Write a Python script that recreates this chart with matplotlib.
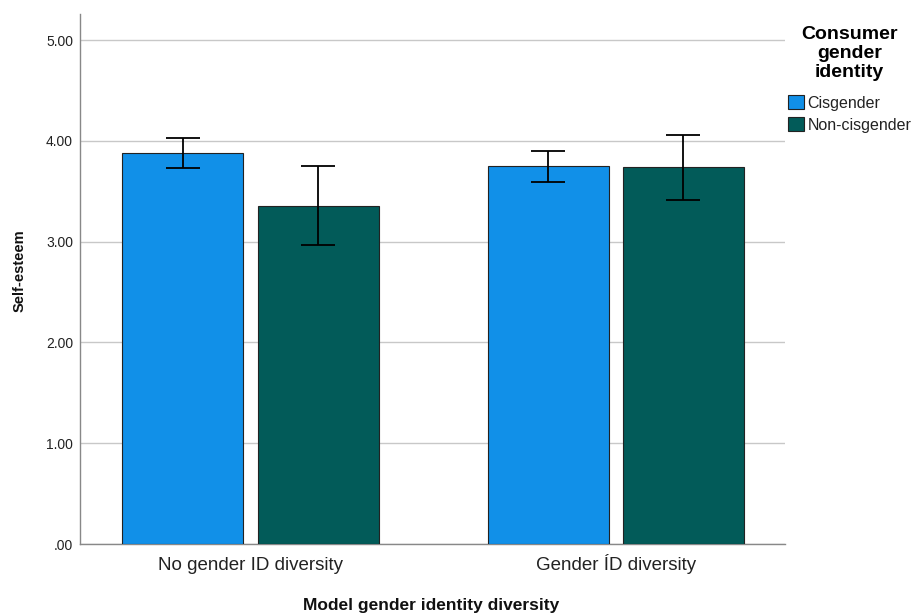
import matplotlib
matplotlib.use("Agg")
import matplotlib.pyplot as plt
from matplotlib.patches import Patch
import numpy as np

plt.rcParams['font.family'] = ['Liberation Sans', 'DejaVu Sans']

groups = ["No gender ID diversity", "Gender ÍD diversity"]
series = ["Cisgender", "Non-cisgender"]
means = {"Cisgender": [3.88, 3.75], "Non-cisgender": [3.35, 3.74]}
ci_low = {"Cisgender": [3.73, 3.59], "Non-cisgender": [2.97, 3.41]}
ci_high = {"Cisgender": [4.03, 3.90], "Non-cisgender": [3.75, 4.06]}
colors = {"Cisgender": "#1190E8", "Non-cisgender": "#025B59"}
yticks = [0, 1, 2, 3, 4, 5]
ytick_labels = [".00", "1.00", "2.00", "3.00", "4.00", "5.00"]

fig = plt.figure(figsize=(9.13, 6.13), dpi=100)
ax = fig.add_axes([80/913, 69/613, 705/913, 530/613])

x = np.arange(len(groups))
width = 0.3315
offsets = [-0.185, 0.185]
for s, off in zip(series, offsets):
    m = np.array(means[s])
    lo = m - np.array(ci_low[s])
    hi = np.array(ci_high[s]) - m
    ax.bar(x + off, m, width=width, color=colors[s], edgecolor="#222222",
           linewidth=0.8, zorder=3)
    ax.errorbar(x + off, m, yerr=[lo, hi], fmt="none", ecolor="black",
                elinewidth=1.3, capsize=12, capthick=1.3, zorder=4)

ax.set_xlim(-0.467, 1.464)
ax.set_ylim(0, 5.26)
ax.set_yticks(yticks)
ax.set_yticklabels(ytick_labels, fontsize=10, color="#222222")
ax.set_xticks(x)
ax.set_xticklabels([])
for xi, g in zip(x, groups):
    ax.text(xi, -26/530, g, transform=ax.get_xaxis_transform(), ha="center",
            va="baseline", fontsize=13.5, color="#222222")
ax.tick_params(axis="both", length=0, pad=5)
ax.yaxis.grid(True, color="#C8C8C8", linewidth=1.0, zorder=0)
ax.set_axisbelow(True)
for sp in ["top", "right"]:
    ax.spines[sp].set_visible(False)
for sp in ["left", "bottom"]:
    ax.spines[sp].set_color("#888888")
    ax.spines[sp].set_linewidth(1.0)

fig.text(20/913, 1 - 271/613, "Self-esteem", rotation=90, ha="center", va="center",
         fontsize=10.5, fontweight="bold", color="#111111")
fig.text(431/913, 1 - 610/613, "Model gender identity diversity", ha="center",
         va="baseline", fontsize=12.5, fontweight="bold", color="#111111")

handles = [Patch(facecolor=colors[s], edgecolor="#222222", linewidth=0.8) for s in series]
leg = fig.legend(handles, series, loc="upper left", bbox_to_anchor=(785/913, 1 - 23/613),
                 frameon=False, title="Consumer\ngender\nidentity",
                 title_fontproperties={"weight": "bold", "size": 14},
                 fontsize=11.5, handlelength=1.0, handleheight=1.0, handletextpad=0.2,
                 labelspacing=0.4, borderpad=0.2, borderaxespad=0)
leg.get_title().set_multialignment("center")
leg.get_title().set_linespacing(1.15)
leg._legend_box.align = "center"
leg._legend_box.sep = 10
for t in leg.get_texts():
    t.set_color("#222222")

fig.savefig("out.png", dpi=100)
